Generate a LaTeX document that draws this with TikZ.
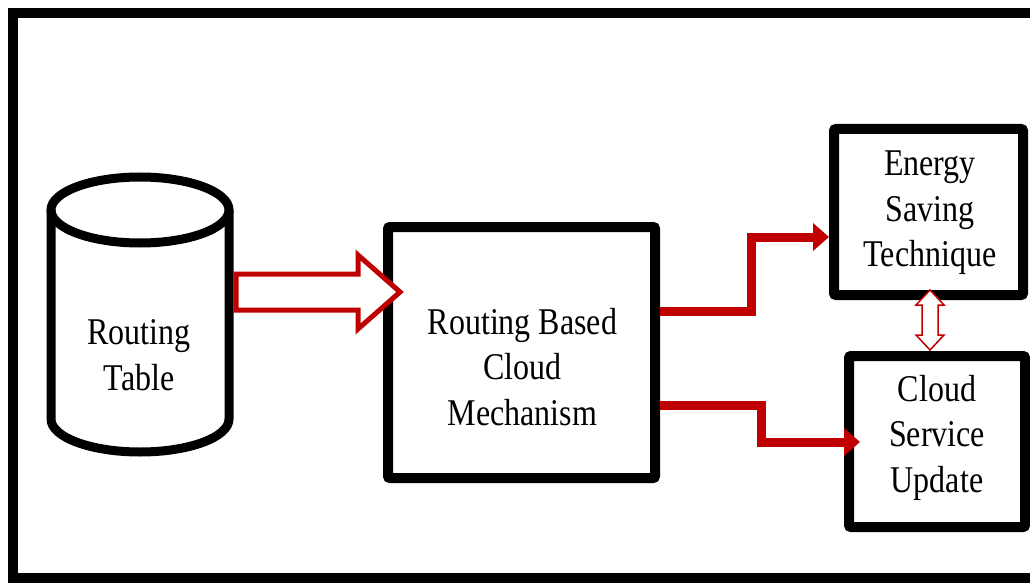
\documentclass[tikz,border=0pt]{standalone}
\usepackage{fontspec}
\setmainfont{Liberation Serif}
\usetikzlibrary{arrows.meta,calc}
\definecolor{dred}{RGB}{192,0,0}
\newcommand{\lbltext}[1]{\scalebox{1}[1.18]{\fontsize{32}{38.5}\selectfont\begin{tabular}{@{}c@{}}#1\end{tabular}}}
\begin{document}
\begin{tikzpicture}[x=1pt,y=1pt,
  box/.style={draw=black,line width=10pt,rounded corners=2pt,inner sep=0pt},
  lbl/.style={inner sep=0pt},
  conn/.style={draw=dred,line width=9pt,line join=miter,-{Triangle[length=16pt,width=27pt]}},
  hollow/.style={draw=dred,line width=5pt,fill=white,line join=miter},
  dbl/.style={draw=dred,line width=1.5pt,fill=white,line join=miter},
  cyl/.style={draw=black,line width=9pt}]
\useasboundingbox (0,0) rectangle (1030,582);
\fill[white] (0,0) rectangle (1030,582);
\draw[line width=10pt] (12.5,4) rectangle (1050,569);
% cylinder
\draw[cyl] (51,372) -- (51,163) arc[start angle=180,end angle=360,x radius=89,y radius=33] -- (229,372);
\draw[cyl] (140,372) ellipse [x radius=89, y radius=33];
\coordinate (cylE) at (233.5,290);
\node[lbl] (rt) at (139,223.5) {\lbltext{Routing\\Table}};
% boxes
\node[box,minimum width=267pt,minimum height=251pt] (rbc) at (521.5,229.5) {};
\node[box,minimum width=189pt,minimum height=166pt] (est) at (928.5,370) {};
\node[box,minimum width=176pt,minimum height=171pt] (csu) at (937,140.5) {};
\node[lbl] (rbct) at (522.5,211.5) {\lbltext{Routing Based\\Cloud\\Mechanism}};
\node[lbl] (estt) at (930,370) {\lbltext{Energy\\Saving\\Technique}};
\node[lbl] (csut) at (937,144.5) {\lbltext{Cloud\\Service\\Update}};
% hollow arrow
\coordinate (tipA) at ($(rbc.west|-cylE)+(17,0)$);
\draw[hollow] ($(cylE)+(2.5,18)$) -- ($(tipA)+(-42,18)$) -- ($(tipA)+(-42,37)$) -- (tipA)
  -- ($(tipA)+(-42,-37)$) -- ($(tipA)+(-42,-18)$) -- ($(cylE)+(2.5,-18)$) -- cycle;
% elbow connectors
\draw[conn] ($(rbc.east)+(0,41.5)$) -- ++(91,0) |- ($(est.west)+(0,-25)$);
\draw[conn] ($(rbc.east)+(0,-52.5)$) -- ++(101,0) |- ($(csu.west)+(16,-0.5)$);
% double arrow
\coordinate (dtop) at ($(est.south)+(1.5,10)$);
\coordinate (dbot) at ($(csu.north)+(-7,1)$);
\draw[dbl] (dtop) -- ++(14,-15) -- ++(-6,0) -- ($(dbot)+(8,15)$) -- ++(6,0) -- (dbot)
  -- ++(-14,15) -- ++(6,0) -- ($(dtop)+(-8,-15)$) -- ++(-6,0) -- cycle;
\end{tikzpicture}
\end{document}
